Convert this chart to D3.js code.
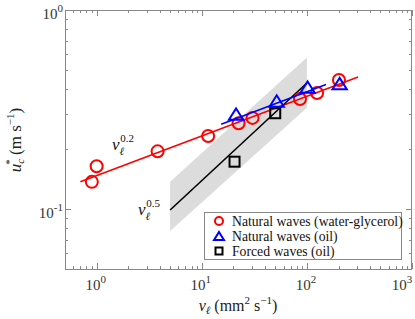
<!DOCTYPE html>
<html lang="en">
<head>
<meta charset="UTF-8" />
<title>Critical velocity vs viscosity</title>
<script src="https://d3js.org/d3.v7.min.js"></script>
<style>
  body { margin: 0; background: #fff; }
  text { font-family: 'Liberation Serif', 'DejaVu Serif', serif; }
</style>
</head>
<body>
<div id="chart"></div>
<script>
// Natural waves (water-glycerol)
const glyNu = [0.9, 1.0, 3.8, 11.5, 22.4, 30.4, 86, 125, 202];
const glyU  = [0.137, 0.164, 0.195, 0.233, 0.270, 0.287, 0.357, 0.383, 0.445];
// Natural waves (oil)
const oilNu = [21.2, 51.6, 101.6, 205];
const oilU  = [0.297, 0.346, 0.406, 0.423];
// Forced waves (oil)
const forNu = [20.5, 50];
const forU  = [0.173, 0.303];

// fitted lines (end points)
const fitGlyNu = [0.7, 307];
const fitGlyU  = [0.137, 0.461];
const fitOilNu = [15.3, 152];
const fitOilU  = [0.267, 0.423];
const fitForNu = [5, 100];
const fitForU  = [0.0989, 0.43];
// grey band around the nu^0.5 line
const bandNu    = [5, 100];
const bandUpper = [0.137, 0.578];
const bandLower = [0.0775, 0.323];

const xMajor = [1, 10, 100, 1000];
const yMajor = [0.1, 1];
const legendLabels = ["Natural waves (water-glycerol)", "Natural waves (oil)", "Forced waves (oil)"];

const width = 415, height = 319;
const margin = { top: 10, right: 3, bottom: 50, left: 65 };
const FONT = "Liberation Serif";

const svg = d3.select("#chart").append("svg")
  .attr("width", width).attr("height", height);

const x = d3.scaleLog().domain([0.5, 1000]).range([margin.left, width - margin.right]);
const y = d3.scaleLog().domain([0.05, 1]).range([height - margin.bottom, margin.top]);

const axisCol = "#888";
const x0 = x.range()[0], x1 = x.range()[1], y0 = y.range()[0], y1 = y.range()[1];

// band
svg.append("path")
  .attr("d", d3.area().x((d, i) => x(bandNu[i])).y0((d, i) => y(bandLower[i])).y1((d, i) => y(bandUpper[i]))(bandNu))
  .attr("fill", "#dcdcdc");

// ticks
const xTicks = [];
for (let e = -1; e <= 3; e++) for (let m = 1; m <= 9; m++) {
  const v = m * Math.pow(10, e);
  if (v >= 0.5 && v <= 1000) xTicks.push({ v, major: m === 1 });
}
const yTicks = [];
for (let e = -2; e <= 0; e++) for (let m = 1; m <= 9; m++) {
  const v = m * Math.pow(10, e);
  if (v >= 0.05 && v <= 1) yTicks.push({ v, major: m === 1 });
}
const tg = svg.append("g").attr("stroke", axisCol).attr("stroke-width", 1);
xTicks.forEach(t => {
  const len = t.major ? 6 : 3;
  const px = Math.round(x(t.v)) + 0.5;
  tg.append("line").attr("x1", px).attr("x2", px).attr("y1", y0).attr("y2", y0 - len);
  tg.append("line").attr("x1", px).attr("x2", px).attr("y1", y1).attr("y2", y1 + len);
});
yTicks.forEach(t => {
  const len = t.major ? 6 : 3;
  const py = Math.round(y(t.v)) + 0.5;
  tg.append("line").attr("y1", py).attr("y2", py).attr("x1", x0).attr("x2", x0 + len);
  tg.append("line").attr("y1", py).attr("y2", py).attr("x1", x1).attr("x2", x1 - len);
});
svg.append("rect")
  .attr("x", x0 + 0.5).attr("y", y1 + 0.5)
  .attr("width", x1 - x0 - 1).attr("height", y0 - y1)
  .attr("fill", "none").attr("stroke", axisCol);

function txt(g) {
  return g.append("text").attr("font-family", FONT);
}

// tick labels
xMajor.forEach(v => {
  const cx = Math.min(x(v) - 1, 402);
  const t = txt(svg).attr("x", cx).attr("y", 290)
    .attr("text-anchor", "middle").attr("font-size", 15).attr("fill", "#333");
  t.append("tspan").text("10");
  t.append("tspan").attr("dy", -7).attr("font-size", 11).text(Math.round(Math.log10(v)));
});
yMajor.forEach(v => {
  const t = txt(svg).attr("x", 63).attr("y", y(v) + 9)
    .attr("text-anchor", "end").attr("font-size", 15).attr("fill", "#333");
  t.append("tspan").text("10");
  t.append("tspan").attr("dy", -7).attr("font-size", 11).text(v === 1 ? "0" : "-1");
});

// axis labels
const xl = txt(svg).attr("x", 238).attr("y", 311).attr("text-anchor", "middle")
  .attr("font-size", 16).attr("fill", "#222");
xl.append("tspan").attr("font-style", "italic").text("ν");
xl.append("tspan").attr("font-size", 11).attr("font-style", "italic").attr("dy", 3).text("ℓ");
xl.append("tspan").attr("dy", -3).text(" (mm");
xl.append("tspan").attr("font-size", 11).attr("dy", -7).text("2");
xl.append("tspan").attr("dy", 7).text(" s");
xl.append("tspan").attr("font-size", 11).attr("dy", -7).text("−1");
xl.append("tspan").attr("dy", 7).text(")");

const yl = txt(svg).attr("transform", "translate(21,140) rotate(-90)")
  .attr("text-anchor", "middle").attr("font-size", 17).attr("fill", "#222");
yl.append("tspan").attr("font-style", "italic").text("u");
yl.append("tspan").attr("font-size", 11).attr("font-style", "italic").attr("dy", 3).text("c");
yl.append("tspan").attr("font-size", 11).attr("dx", -6).attr("dy", -11).text("*");
yl.append("tspan").attr("dy", 8).text(" (m s");
yl.append("tspan").attr("font-size", 11).attr("dy", -7).text("−1");
yl.append("tspan").attr("dy", 7).text(")");

// fit lines
const line = d3.line();
function fit(nu, u, col) {
  svg.append("path").attr("d", line(nu.map((n, i) => [x(n), y(u[i])])))
    .attr("stroke", col).attr("stroke-width", 1.6).attr("fill", "none");
}
fit(fitGlyNu, fitGlyU, "#ff0000");
fit(fitForNu, fitForU, "#000");

// markers
const circ = (g, cx, cy, r) => g.append("circle").attr("cx", cx).attr("cy", cy).attr("r", r)
  .attr("fill", "none").attr("stroke", "#ff0000").attr("stroke-width", 2);
const tri = (g, cx, cy, s) => g.append("path")
  .attr("d", `M${cx},${cy - s}L${cx + s * 1.1},${cy + s * 0.75}L${cx - s * 1.1},${cy + s * 0.75}Z`)
  .attr("fill", "none").attr("stroke", "#0000ff").attr("stroke-width", 2);
const sq = (g, cx, cy, s) => g.append("rect").attr("x", cx - s).attr("y", cy - s)
  .attr("width", 2 * s).attr("height", 2 * s)
  .attr("fill", "none").attr("stroke", "#000").attr("stroke-width", 2);

const mg = svg.append("g");
forNu.forEach((n, i) => sq(mg, x(n), y(forU[i]), 5));
glyNu.forEach((n, i) => circ(mg, x(n), y(glyU[i]), 6));
fit(fitOilNu, fitOilU, "#0000ff");
oilNu.forEach((n, i) => tri(mg, x(n), y(oilU[i]), 6.5));

// exponent annotations
function ann(px, py, exp) {
  const t = txt(svg).attr("x", px).attr("y", py).attr("font-size", 17).attr("fill", "#111");
  t.append("tspan").attr("font-style", "italic").text("ν");
  t.append("tspan").attr("font-style", "italic").attr("font-size", 11).attr("dy", 5).text("ℓ");
  t.append("tspan").attr("font-size", 11).attr("dx", -4).attr("dy", -13).text(exp);
}
ann(112, 150, "0.2");
ann(138, 215, "0.5");

// legend
const lg = svg.append("g");
lg.append("rect").attr("x", 204.5).attr("y", 212.5).attr("width", 197).attr("height", 47)
  .attr("fill", "#fff").attr("stroke", "#888");
const ly = [221, 236, 251];
circ(lg, 219, ly[0], 4);
tri(lg, 219, ly[1] + 0.5, 4.5);
sq(lg, 219, ly[2], 3.5);
legendLabels.forEach((s, i) => txt(lg).attr("x", 232).attr("y", ly[i] + 4.5)
  .attr("font-size", 13.7).attr("fill", "#111").text(s));
</script>
</body>
</html>
